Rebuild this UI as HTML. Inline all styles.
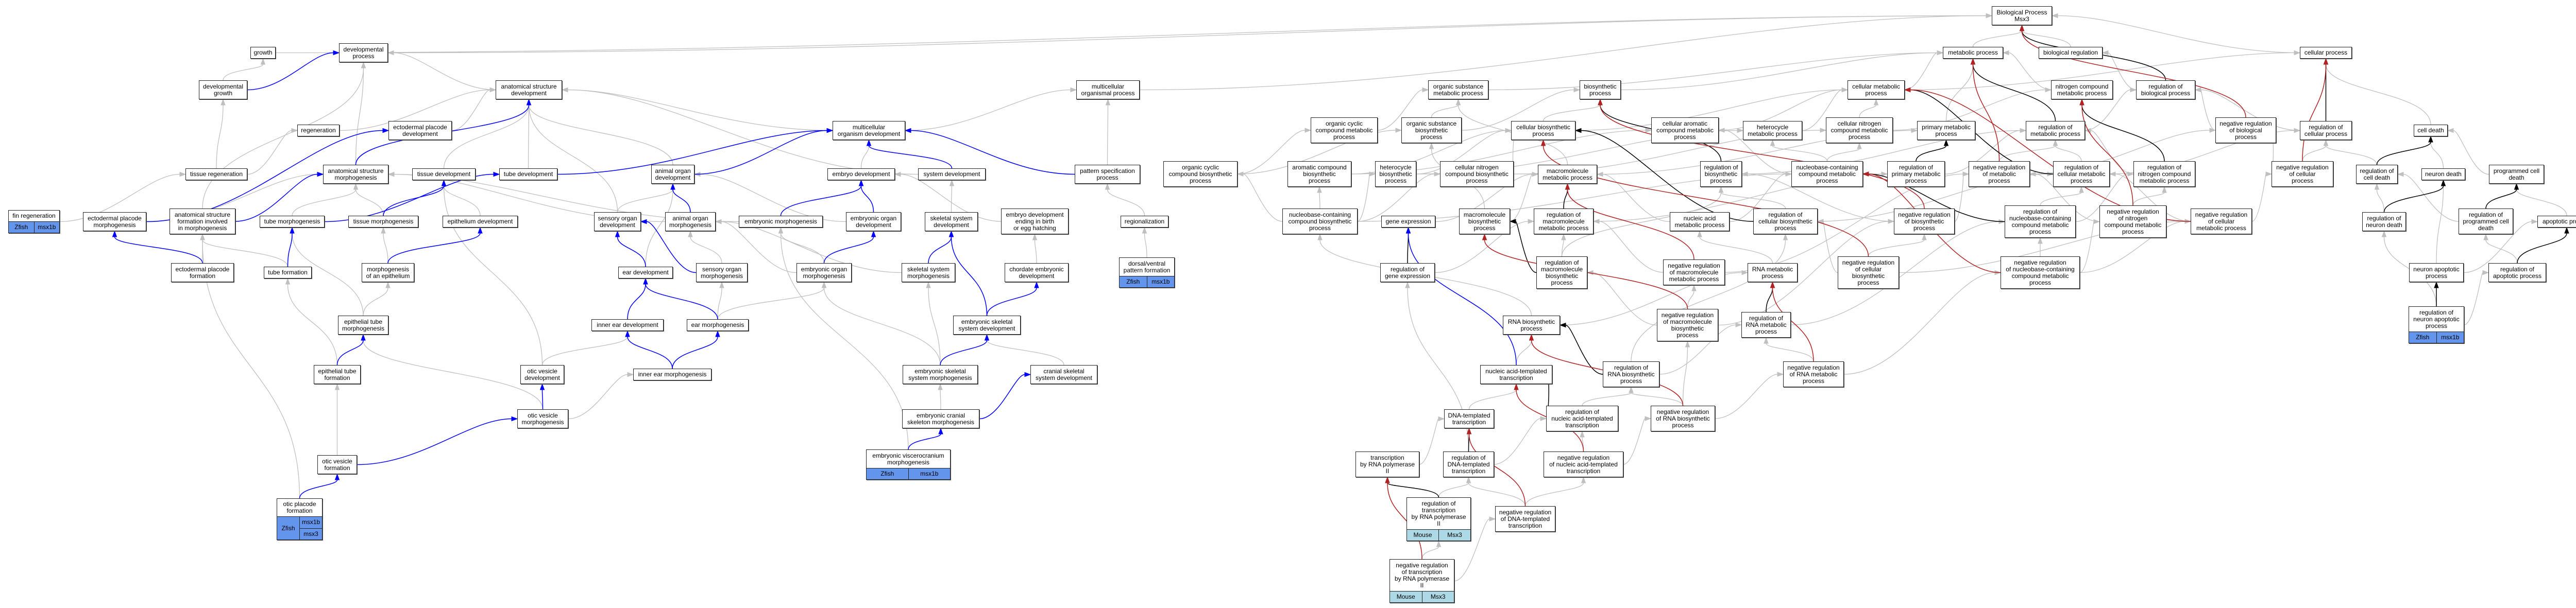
<!DOCTYPE html>
<html><head><meta charset="utf-8">
<style>
html,body{margin:0;padding:0;background:#fff;}
#c{position:relative;width:5055px;height:1181px;overflow:hidden;background:#fff;}
svg{position:absolute;left:0;top:0;}
.n{position:absolute;box-sizing:border-box;border:1.5px solid #222;box-shadow:1px 1px 0 #555;background:#fff;font:12px/13px "Liberation Sans",Arial,sans-serif;color:#000;text-align:center;display:flex;flex-direction:column;z-index:2;white-space:nowrap;}
.lb{flex:1;display:flex;align-items:center;justify-content:center;}
.h1{height:23px}.h2{height:37px}.h3{height:50px}.h4{height:63px}
.g{display:flex;border-top:1.5px solid #222;height:21px;}
.g span{flex:1;display:flex;align-items:center;justify-content:center;background:#6495ed;}
.g span+span{border-left:1.5px solid #222;}
.g.m span{background:#add8e6;}
.g2{display:flex;border-top:1.5px solid #222;height:44px;}
.g2>span{flex:1;display:flex;align-items:center;justify-content:center;background:#6495ed;}
.g2>div{flex:1;display:flex;flex-direction:column;border-left:1.5px solid #222;}
.g2>div span{flex:1;display:flex;align-items:center;justify-content:center;background:#6495ed;}
.g2>div span+span{border-top:1.5px solid #222;}
</style></head><body><div id="c">
<svg id="s" width="5055" height="1181"></svg>

<div class="n h2" id="bp" style="left:3866px;top:12px;width:117px"><div class="lb">Biological Process<br>Msx3</div></div>

<div class="n h1" id="growth" style="left:486px;top:91px;width:49px"><div class="lb">growth</div></div>
<div class="n h2" id="devproc" style="left:658px;top:84px;width:95px"><div class="lb">developmental<br>process</div></div>
<div class="n h1" id="metab" style="left:3771px;top:91px;width:117px"><div class="lb">metabolic process</div></div>
<div class="n h1" id="bioreg" style="left:3957px;top:91px;width:124px"><div class="lb">biological regulation</div></div>
<div class="n h1" id="cellproc" style="left:4464px;top:91px;width:101px"><div class="lb">cellular process</div></div>

<div class="n h2" id="devgrowth" style="left:386px;top:156px;width:94px"><div class="lb">developmental<br>growth</div></div>
<div class="n h2" id="asd" style="left:962px;top:156px;width:129px"><div class="lb">anatomical structure<br>development</div></div>
<div class="n h2" id="mop" style="left:2089px;top:156px;width:123px"><div class="lb">multicellular<br>organismal process</div></div>
<div class="n h2" id="osmp" style="left:2772px;top:156px;width:117px"><div class="lb">organic substance<br>metabolic process</div></div>
<div class="n h2" id="biosyn" style="left:3066px;top:156px;width:80px"><div class="lb">biosynthetic<br>process</div></div>
<div class="n h2" id="cmp" style="left:3586px;top:156px;width:111px"><div class="lb">cellular metabolic<br>process</div></div>
<div class="n h2" id="ncmp" style="left:3981px;top:156px;width:120px"><div class="lb">nitrogen compound<br>metabolic process</div></div>
<div class="n h2" id="rbp" style="left:4146px;top:156px;width:115px"><div class="lb">regulation of<br>biological process</div></div>

<div class="n h1" id="regen" style="left:577px;top:242px;width:82px"><div class="lb">regeneration</div></div>
<div class="n h2" id="epd" style="left:754px;top:235px;width:123px"><div class="lb">ectodermal placode<br>development</div></div>
<div class="n h2" id="mod" style="left:1616px;top:235px;width:141px"><div class="lb">multicellular<br>organism development</div></div>
<div class="n h3" id="occmp" style="left:2544px;top:228px;width:130px"><div class="lb">organic cyclic<br>compound metabolic<br>process</div></div>
<div class="n h3" id="osbp" style="left:2720px;top:228px;width:117px"><div class="lb">organic substance<br>biosynthetic<br>process</div></div>
<div class="n h2" id="cbp" style="left:2933px;top:235px;width:125px"><div class="lb">cellular biosynthetic<br>process</div></div>
<div class="n h3" id="cacmp" style="left:3205px;top:228px;width:131px"><div class="lb">cellular aromatic<br>compound metabolic<br>process</div></div>
<div class="n h2" id="hmp" style="left:3383px;top:235px;width:115px"><div class="lb">heterocycle<br>metabolic process</div></div>
<div class="n h3" id="cncmp" style="left:3544px;top:228px;width:130px"><div class="lb">cellular nitrogen<br>compound metabolic<br>process</div></div>
<div class="n h2" id="pmp" style="left:3721px;top:235px;width:113px"><div class="lb">primary metabolic<br>process</div></div>
<div class="n h2" id="rmp" style="left:3932px;top:235px;width:115px"><div class="lb">regulation of<br>metabolic process</div></div>
<div class="n h3" id="nrbp" style="left:4300px;top:228px;width:118px"><div class="lb">negative regulation<br>of biological<br>process</div></div>
<div class="n h2" id="rcp" style="left:4464px;top:235px;width:101px"><div class="lb">regulation of<br>cellular process</div></div>
<div class="n h1" id="celldeath" style="left:4685px;top:242px;width:66px"><div class="lb">cell death</div></div>

<div class="n h1" id="treg" style="left:360px;top:327px;width:120px"><div class="lb">tissue regeneration</div></div>
<div class="n h2" id="asm" style="left:627px;top:320px;width:127px"><div class="lb">anatomical structure<br>morphogenesis</div></div>
<div class="n h1" id="tdev" style="left:800px;top:327px;width:123px"><div class="lb">tissue development</div></div>
<div class="n h1" id="tubedev" style="left:969px;top:327px;width:113px"><div class="lb">tube development</div></div>
<div class="n h2" id="aod" style="left:1264px;top:320px;width:84px"><div class="lb">animal organ<br>development</div></div>
<div class="n h1" id="embdev" style="left:1606px;top:327px;width:131px"><div class="lb">embryo development</div></div>
<div class="n h1" id="sysdev" style="left:1782px;top:327px;width:131px"><div class="lb">system development</div></div>
<div class="n h2" id="psp" style="left:2086px;top:320px;width:127px"><div class="lb">pattern specification<br>process</div></div>
<div class="n h3" id="occbp" style="left:2258px;top:313px;width:144px"><div class="lb">organic cyclic<br>compound biosynthetic<br>process</div></div>
<div class="n h3" id="acbp" style="left:2499px;top:313px;width:124px"><div class="lb">aromatic compound<br>biosynthetic<br>process</div></div>
<div class="n h3" id="hbp" style="left:2669px;top:313px;width:80px"><div class="lb">heterocycle<br>biosynthetic<br>process</div></div>
<div class="n h3" id="cncbp" style="left:2795px;top:313px;width:143px"><div class="lb">cellular nitrogen<br>compound biosynthetic<br>process</div></div>
<div class="n h2" id="mmp" style="left:2985px;top:320px;width:115px"><div class="lb">macromolecule<br>metabolic process</div></div>
<div class="n h3" id="rbsp" style="left:3300px;top:313px;width:81px"><div class="lb">regulation of<br>biosynthetic<br>process</div></div>
<div class="n h3" id="nccmp" style="left:3477px;top:313px;width:139px"><div class="lb">nucleobase-containing<br>compound metabolic<br>process</div></div>
<div class="n h3" id="rpmp" style="left:3663px;top:313px;width:112px"><div class="lb">regulation of<br>primary metabolic<br>process</div></div>
<div class="n h3" id="nrmp" style="left:3821px;top:313px;width:119px"><div class="lb">negative regulation<br>of metabolic<br>process</div></div>
<div class="n h3" id="rcmp" style="left:3985px;top:313px;width:110px"><div class="lb">regulation of<br>cellular metabolic<br>process</div></div>
<div class="n h3" id="rncmp" style="left:4141px;top:313px;width:120px"><div class="lb">regulation of<br>nitrogen compound<br>metabolic process</div></div>
<div class="n h3" id="nrcp" style="left:4409px;top:313px;width:120px"><div class="lb">negative regulation<br>of cellular<br>process</div></div>
<div class="n h2" id="rcd" style="left:4573px;top:320px;width:81px"><div class="lb">regulation of<br>cell death</div></div>
<div class="n h1" id="ndeath" style="left:4700px;top:327px;width:85px"><div class="lb">neuron death</div></div>
<div class="n h2" id="pcd" style="left:4831px;top:320px;width:107px"><div class="lb">programmed cell<br>death</div></div>

<div class="n" id="finreg" style="left:16px;top:408px;width:100px;height:45px"><div class="lb">fin regeneration</div><div class="g"><span>Zfish</span><span>msx1b</span></div></div>
<div class="n h2" id="epm" style="left:161px;top:412px;width:123px"><div class="lb">ectodermal placode<br>morphogenesis</div></div>
<div class="n h3" id="asfim" style="left:329px;top:405px;width:128px"><div class="lb">anatomical structure<br>formation involved<br>in morphogenesis</div></div>
<div class="n h1" id="tubem" style="left:504px;top:419px;width:126px"><div class="lb">tube morphogenesis</div></div>
<div class="n h1" id="tism" style="left:676px;top:419px;width:136px"><div class="lb">tissue morphogenesis</div></div>
<div class="n h1" id="epdev" style="left:859px;top:419px;width:146px"><div class="lb">epithelium development</div></div>
<div class="n h2" id="sod" style="left:1153px;top:412px;width:91px"><div class="lb">sensory organ<br>development</div></div>
<div class="n h2" id="aom" style="left:1291px;top:412px;width:98px"><div class="lb">animal organ<br>morphogenesis</div></div>
<div class="n h1" id="embm" style="left:1434px;top:419px;width:163px"><div class="lb">embryonic morphogenesis</div></div>
<div class="n h2" id="eod" style="left:1642px;top:412px;width:107px"><div class="lb">embryonic organ<br>development</div></div>
<div class="n h2" id="ssd" style="left:1795px;top:412px;width:103px"><div class="lb">skeletal system<br>development</div></div>
<div class="n h3" id="edeb" style="left:1943px;top:405px;width:131px"><div class="lb">embryo development<br>ending in birth<br>or egg hatching</div></div>
<div class="n h1" id="regio" style="left:2175px;top:419px;width:93px"><div class="lb">regionalization</div></div>
<div class="n h3" id="nccbp" style="left:2489px;top:405px;width:146px"><div class="lb">nucleobase-containing<br>compound biosynthetic<br>process</div></div>
<div class="n h1" id="geneexp" style="left:2681px;top:419px;width:105px"><div class="lb">gene expression</div></div>
<div class="n h3" id="mbp" style="left:2832px;top:405px;width:99px"><div class="lb">macromolecule<br>biosynthetic<br>process</div></div>
<div class="n h3" id="rmmp" style="left:2977px;top:405px;width:116px"><div class="lb">regulation of<br>macromolecule<br>metabolic process</div></div>
<div class="n h2" id="namp" style="left:3241px;top:412px;width:116px"><div class="lb">nucleic acid<br>metabolic process</div></div>
<div class="n h3" id="rcbp" style="left:3403px;top:405px;width:125px"><div class="lb">regulation of<br>cellular biosynthetic<br>process</div></div>
<div class="n h3" id="nrbsp" style="left:3676px;top:405px;width:118px"><div class="lb">negative regulation<br>of biosynthetic<br>process</div></div>
<div class="n h4" id="rnccmp" style="left:3891px;top:399px;width:138px"><div class="lb">regulation of<br>nucleobase-containing<br>compound metabolic<br>process</div></div>
<div class="n h4" id="nrncmp" style="left:4075px;top:399px;width:130px"><div class="lb">negative regulation<br>of nitrogen<br>compound metabolic<br>process</div></div>
<div class="n h3" id="nrcmp" style="left:4252px;top:405px;width:119px"><div class="lb">negative regulation<br>of cellular<br>metabolic process</div></div>
<div class="n h2" id="rnd" style="left:4585px;top:412px;width:85px"><div class="lb">regulation of<br>neuron death</div></div>
<div class="n h3" id="rpcd" style="left:4772px;top:405px;width:106px"><div class="lb">regulation of<br>programmed cell<br>death</div></div>
<div class="n h1" id="apop" style="left:4925px;top:419px;width:114px"><div class="lb">apoptotic process</div></div>

<div class="n h2" id="epf" style="left:332px;top:511px;width:122px"><div class="lb">ectodermal placode<br>formation</div></div>
<div class="n h1" id="tubef" style="left:512px;top:518px;width:93px"><div class="lb">tube formation</div></div>
<div class="n h2" id="moe" style="left:702px;top:511px;width:102px"><div class="lb">morphogenesis<br>of an epithelium</div></div>
<div class="n h1" id="eardev" style="left:1200px;top:518px;width:106px"><div class="lb">ear development</div></div>
<div class="n h2" id="som" style="left:1351px;top:511px;width:100px"><div class="lb">sensory organ<br>morphogenesis</div></div>
<div class="n h2" id="eom" style="left:1546px;top:511px;width:107px"><div class="lb">embryonic organ<br>morphogenesis</div></div>
<div class="n h2" id="ssm" style="left:1750px;top:511px;width:104px"><div class="lb">skeletal system<br>morphogenesis</div></div>
<div class="n h2" id="ced" style="left:1950px;top:511px;width:124px"><div class="lb">chordate embryonic<br>development</div></div>
<div class="n" id="dvpf" style="left:2172px;top:500px;width:108px;height:59px"><div class="lb">dorsal/ventral<br>pattern formation</div><div class="g"><span>Zfish</span><span>msx1b</span></div></div>
<div class="n h2" id="rge" style="left:2679px;top:511px;width:106px"><div class="lb">regulation of<br>gene expression</div></div>
<div class="n h4" id="rmbp" style="left:2982px;top:498px;width:99px"><div class="lb">regulation of<br>macromolecule<br>biosynthetic<br>process</div></div>
<div class="n h3" id="nrmmp" style="left:3228px;top:504px;width:120px"><div class="lb">negative regulation<br>of macromolecule<br>metabolic process</div></div>
<div class="n h2" id="rnamp" style="left:3392px;top:511px;width:97px"><div class="lb">RNA metabolic<br>process</div></div>
<div class="n h4" id="nrcbp" style="left:3567px;top:498px;width:119px"><div class="lb">negative regulation<br>of cellular<br>biosynthetic<br>process</div></div>
<div class="n h4" id="nrnccmp" style="left:3883px;top:498px;width:154px"><div class="lb">negative regulation<br>of nucleobase-containing<br>compound metabolic<br>process</div></div>
<div class="n h2" id="nap" style="left:4676px;top:511px;width:106px"><div class="lb">neuron apoptotic<br>process</div></div>
<div class="n h2" id="rap" style="left:4830px;top:511px;width:112px"><div class="lb">regulation of<br>apoptotic process</div></div>

<div class="n h2" id="etm" style="left:656px;top:613px;width:98px"><div class="lb">epithelial tube<br>morphogenesis</div></div>
<div class="n h1" id="ieardev" style="left:1148px;top:620px;width:140px"><div class="lb">inner ear development</div></div>
<div class="n h1" id="earm" style="left:1333px;top:620px;width:120px"><div class="lb">ear morphogenesis</div></div>
<div class="n h2" id="essd" style="left:1850px;top:613px;width:131px"><div class="lb">embryonic skeletal<br>system development</div></div>
<div class="n h2" id="rnabp" style="left:2917px;top:613px;width:111px"><div class="lb">RNA biosynthetic<br>process</div></div>
<div class="n h4" id="nrmbp" style="left:3216px;top:600px;width:119px"><div class="lb">negative regulation<br>of macromolecule<br>biosynthetic<br>process</div></div>
<div class="n h3" id="rrnamp" style="left:3380px;top:606px;width:96px"><div class="lb">regulation of<br>RNA metabolic<br>process</div></div>
<div class="n" id="rnap" style="left:4675px;top:595px;width:108px;height:72px"><div class="lb">regulation of<br>neuron apoptotic<br>process</div><div class="g"><span>Zfish</span><span>msx1b</span></div></div>

<div class="n h2" id="etf" style="left:609px;top:709px;width:91px"><div class="lb">epithelial tube<br>formation</div></div>
<div class="n h2" id="ovd" style="left:1010px;top:709px;width:85px"><div class="lb">otic vesicle<br>development</div></div>
<div class="n h1" id="iem" style="left:1229px;top:716px;width:152px"><div class="lb">inner ear morphogenesis</div></div>
<div class="n h2" id="essm" style="left:1752px;top:709px;width:146px"><div class="lb">embryonic skeletal<br>system morphogenesis</div></div>
<div class="n h2" id="cssd" style="left:2000px;top:709px;width:130px"><div class="lb">cranial skeletal<br>system development</div></div>
<div class="n h2" id="nat" style="left:2873px;top:709px;width:140px"><div class="lb">nucleic acid-templated<br>transcription</div></div>
<div class="n h3" id="rrnabp" style="left:3111px;top:702px;width:110px"><div class="lb">regulation of<br>RNA biosynthetic<br>process</div></div>
<div class="n h3" id="nrrnamp" style="left:3461px;top:702px;width:118px"><div class="lb">negative regulation<br>of RNA metabolic<br>process</div></div>

<div class="n h2" id="ovm" style="left:1004px;top:795px;width:99px"><div class="lb">otic vesicle<br>morphogenesis</div></div>
<div class="n h2" id="ecsm" style="left:1751px;top:795px;width:150px"><div class="lb">embryonic cranial<br>skeleton morphogenesis</div></div>
<div class="n h2" id="dtt" style="left:2803px;top:795px;width:97px"><div class="lb">DNA-templated<br>transcription</div></div>
<div class="n h3" id="rnat" style="left:3001px;top:788px;width:140px"><div class="lb">regulation of<br>nucleic acid-templated<br>transcription</div></div>
<div class="n h3" id="nrrnabp" style="left:3204px;top:788px;width:125px"><div class="lb">negative regulation<br>of RNA biosynthetic<br>process</div></div>

<div class="n h2" id="ovf" style="left:616px;top:884px;width:77px"><div class="lb">otic vesicle<br>formation</div></div>
<div class="n" id="evm" style="left:1681px;top:873px;width:164px;height:59px"><div class="lb">embryonic viscerocranium<br>morphogenesis</div><div class="g"><span>Zfish</span><span>msx1b</span></div></div>
<div class="n h3" id="tpol" style="left:2631px;top:877px;width:124px"><div class="lb">transcription<br>by RNA polymerase<br>II</div></div>
<div class="n h3" id="rdtt" style="left:2801px;top:877px;width:99px"><div class="lb">regulation of<br>DNA-templated<br>transcription</div></div>
<div class="n h3" id="nrnat" style="left:2996px;top:877px;width:155px"><div class="lb">negative regulation<br>of nucleic acid-templated<br>transcription</div></div>

<div class="n" id="opf" style="left:537px;top:968px;width:89px;height:81px"><div class="lb">otic placode<br>formation</div><div class="g2"><span>Zfish</span><div><span>msx1b</span><span>msx3</span></div></div></div>
<div class="n" id="rtpol" style="left:2730px;top:966px;width:125px;height:85px"><div class="lb">regulation of<br>transcription<br>by RNA polymerase<br>II</div><div class="g m"><span>Mouse</span><span>Msx3</span></div></div>
<div class="n h3" id="nrdtt" style="left:2902px;top:983px;width:117px"><div class="lb">negative regulation<br>of DNA-templated<br>transcription</div></div>

<div class="n" id="nrtpol" style="left:2697px;top:1086px;width:126px;height:85px"><div class="lb">negative regulation<br>of transcription<br>by RNA polymerase<br>II</div><div class="g m"><span>Mouse</span><span>Msx3</span></div></div>
</div>
<script>
(function(){
var E="growth bp g;devproc bp g;devgrowth growth g;devgrowth devproc b;asd devproc g;regen asd g;epd asd g;treg devgrowth g;treg regen g;asm asd b;asm devproc g;tdev asd g;tubedev asd g;tubedev mod b;finreg treg g;epm epd b;epm asm g;asfim asm b;asfim devproc g;tubem tubedev b;tubem asm g;tism tdev b;tism asm g;epdev tdev g;sod aod g;sod asd g;epf epm b;epf asfim g;tubef tubem b;tubef asfim g;moe epdev b;moe tism g;eardev sod b;eardev aod g;etm tubem g;etm moe g;ieardev eardev b;etf etm b;etf tubef g;ovd ieardev g;ovd tdev g;iem ieardev b;iem earm b;ovm ovd b;ovm etm g;ovm iem g;ovf ovm b;ovf etf g;opf ovf b;opf asfim g;"+
"mop bp g;mod mop g;mod asd g;aod asd g;aod mod b;embdev mod g;sysdev mod b;sysdev asd g;psp mop g;psp mod b;aom aod b;aom asm g;embm embdev b;embm asm g;eod embdev b;eod aod g;ssd sysdev g;edeb embdev g;regio psp g;som aom g;som sod b;eom eod b;eom aom g;eom embm g;ssm ssd b;ssm aom g;ced edeb g;dvpf regio g;earm eardev b;earm som g;earm eom g;essd ssd b;essd ced b;essm essd b;essm ssm g;essm eom g;cssd essd g;ecsm cssd b;ecsm essm g;evm ecsm b;evm embm g;"+
"metab bp g;bioreg bp g;cellproc bp g;osmp metab g;biosyn metab g;cmp metab g;cmp cellproc g;ncmp metab g;rbp bioreg g;rbp bp k;occmp osmp g;osbp osmp g;osbp biosyn g;cbp biosyn g;cbp cmp g;cacmp cmp g;hmp cmp g;cncmp cmp g;cncmp ncmp g;pmp metab g;rmp metab k;rmp rbp g;nrbp bp r;nrbp rbp g;rcp cellproc k;rcp rbp g;celldeath cellproc g;occbp occmp g;occbp osbp g;acbp cacmp g;acbp cbp g;hbp hmp g;hbp cbp g;cncbp cbp g;cncbp cncmp g;mmp osmp g;mmp pmp g;rbsp biosyn k;rbsp rmp g;nccmp cacmp g;nccmp hmp g;nccmp cncmp g;rpmp pmp k;rpmp rmp g;nrmp metab r;nrmp rmp g;nrmp nrbp g;rcmp cmp k;rcmp rmp g;rcmp rcp g;rncmp ncmp k;rncmp rmp g;nrcp cellproc r;nrcp rcp g;nrcp nrbp g;rcd celldeath k;rcd rcp g;ndeath celldeath g;pcd celldeath g;"+
"nccbp occbp g;nccbp acbp g;nccbp hbp g;nccbp cncbp g;nccbp nccmp g;geneexp mmp g;mbp mmp g;mbp osbp g;rmmp mmp k;rmmp rpmp g;namp nccmp g;namp mmp g;rcbp cbp k;rcbp rbsp g;rcbp rcmp g;nrbsp biosyn r;nrbsp rbsp g;nrbsp nrmp g;rnccmp nccmp k;rnccmp rcmp g;rnccmp rncmp g;nrncmp ncmp r;nrncmp rncmp g;nrncmp nrmp g;nrcmp cmp r;nrcmp rcmp g;nrcmp nrcp g;rnd ndeath k;rnd rcd g;rpcd pcd k;rpcd rcd g;apop pcd g;"+
"rge geneexp k;rge rmmp g;rmbp mbp k;rmbp rmmp g;rmbp rbsp g;nrmmp mmp r;nrmmp rmmp g;nrmmp nrmp g;rnamp namp g;nrcbp cbp r;nrcbp rcbp g;nrcbp nrbsp g;nrcbp nrcmp g;nrnccmp nccmp r;nrnccmp rnccmp g;nrnccmp nrncmp g;nrnccmp nrcmp g;nap ndeath g;nap apop g;rap apop k;rap rpcd g;"+
"rnabp rnamp g;rnabp nccbp g;nrmbp mbp r;nrmbp rmbp g;nrmbp nrmmp g;nrmbp nrbsp g;rrnamp rnamp k;rrnamp rnccmp g;rnap nap k;rnap rnd g;rnap rap g;nat rnabp g;nat geneexp b;rrnabp rnabp k;rrnabp rrnamp g;rrnabp rcbp g;nrrnamp rnamp r;nrrnamp rrnamp g;nrrnamp nrnccmp g;dtt nat g;rnat nat k;rnat rrnabp g;nrrnabp rnabp r;nrrnabp rrnabp g;nrrnabp nrrnamp g;nrrnabp nrmbp g;tpol dtt g;rdtt dtt k;rdtt rnat g;rdtt rge g;nrnat nat r;nrnat rnat g;nrnat nrrnabp g;rtpol tpol k;rtpol rdtt g;nrdtt dtt r;nrdtt rdtt g;nrdtt nrnat g;nrtpol tpol r;nrtpol rtpol g;nrtpol nrdtt g";
var col={g:"#c0c0c0",b:"#0000ff",k:"#000000",r:"#b22222"};
var svg=document.getElementById("s");
function R(id){var e=document.getElementById(id);if(!e)return null;var l=e.offsetLeft,t=e.offsetTop;return{l:l,t:t,r:l+e.offsetWidth,b:t+e.offsetHeight};}
var gray="",col2="";
E.split(";").forEach(function(s){var p=s.split(" ");var a=R(p[0]),b=R(p[1]);if(!a||!b)return;var c=col[p[2]];
var sx=(a.l+a.r)/2,sy=a.t,ex=(b.l+b.r)/2,ey=b.b,c1x,c1y,c2x,c2y;var dx=ex-sx,dy=sy-ey;
if(Math.abs(dx)>3*Math.max(dy,1)){if(dx>0){sx=a.r;ex=b.l;}else{sx=a.l;ex=b.r;}sy=(a.t+a.b)/2;ey=(b.t+b.b)/2;c1x=sx+(ex-sx)*0.4;c1y=sy;c2x=ex-(ex-sx)*0.3;c2y=ey;}
else{var m=(sy-ey)/2;c1x=sx;c1y=sy-m;c2x=ex;c2y=ey+m;}
var ux=ex-c2x,uy=ey-c2y,L=Math.sqrt(ux*ux+uy*uy)||1;ux/=L;uy/=L;var AL=11,AW=4;var bx=ex-ux*AL,by=ey-uy*AL;
var w=p[2]=="g"?1.3:1.5;
var str='<path d="M'+sx.toFixed(1)+','+sy.toFixed(1)+' C'+c1x.toFixed(1)+','+c1y.toFixed(1)+' '+c2x.toFixed(1)+','+c2y.toFixed(1)+' '+bx.toFixed(1)+','+by.toFixed(1)+'" fill="none" stroke="'+c+'" stroke-width="'+w+'"/>'+
'<polygon points="'+ex.toFixed(1)+','+ey.toFixed(1)+' '+(bx-uy*AW).toFixed(1)+','+(by+ux*AW).toFixed(1)+' '+(bx+uy*AW).toFixed(1)+','+(by-ux*AW).toFixed(1)+'" fill="'+c+'" stroke="'+c+'"/>';
if(p[2]=="g")gray+=str;else col2+=str;});
svg.innerHTML=gray+col2;
})();
</script>
</body></html>
